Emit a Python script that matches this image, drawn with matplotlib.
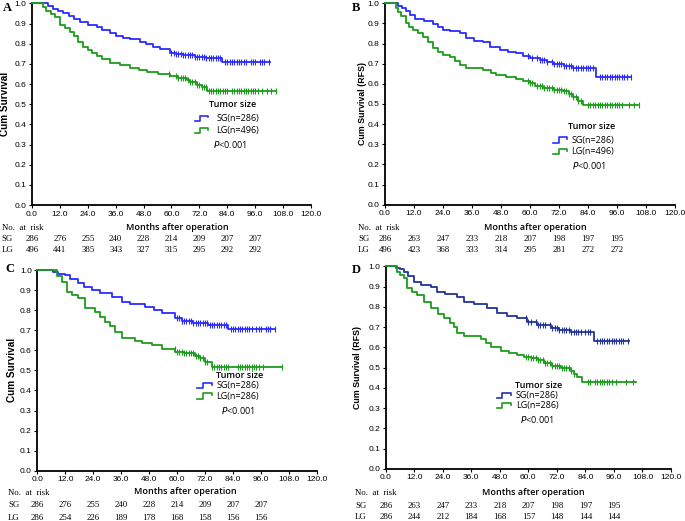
import numpy as np
import matplotlib
matplotlib.use("Agg")
import matplotlib.pyplot as plt

# ---------------- data ----------------
months_ticks = [0, 12, 24, 36, 48, 60, 72, 84, 96, 108, 120]
risk_times = [0, 12, 24, 36, 48, 60, 72, 84, 96]

# Panel A (OS, before matching)
A_sg_t = [0, 7, 9, 11, 13.5, 16, 18, 20.6, 24, 27.8, 30, 33.5, 36, 39, 42, 46.5, 49, 52, 55, 59.4, 62, 65, 70, 75, 81.6, 102.4]
A_sg_s = [1, 0.99, 0.975, 0.965, 0.951, 0.94, 0.925, 0.91, 0.895, 0.882, 0.87, 0.852, 0.84, 0.83, 0.822, 0.81, 0.80, 0.786, 0.775, 0.756, 0.748, 0.744, 0.735, 0.728, 0.71, 0.71]
A_sg_c = [60, 61, 62, 63, 64, 65, 66, 67, 68, 69, 70, 71, 72, 73, 74, 75, 76, 77, 78, 79, 80, 81, 83, 84, 85, 86, 87, 88, 89, 90, 91, 92, 94, 95, 96, 98, 99, 100, 102]
A_lg_t = [0, 4.9, 6, 8, 9.9, 12, 14, 16.3, 18, 20, 22, 24, 26, 27.8, 30, 33.5, 37.8, 42, 46, 49.3, 54, 59.4, 63, 66.5, 68, 70.8, 73, 75.1, 105]
A_lg_s = [1, 0.985, 0.965, 0.95, 0.935, 0.893, 0.88, 0.86, 0.84, 0.81, 0.786, 0.77, 0.755, 0.74, 0.725, 0.703, 0.695, 0.678, 0.67, 0.662, 0.652, 0.64, 0.63, 0.62, 0.61, 0.596, 0.585, 0.568, 0.568]
A_lg_c = [59, 62, 63, 64, 65, 66, 67, 68, 69, 70, 71, 72, 73, 74, 75, 76, 77, 78, 79, 80, 81, 82, 83, 84, 86, 87, 88, 89, 90, 91, 92, 93, 94, 95, 96, 97, 99, 101, 103, 105]
A_sg_risk = [286, 276, 255, 240, 228, 214, 209, 207, 207]
A_lg_risk = [496, 441, 385, 343, 327, 315, 295, 292, 292]

# Panel B (RFS, before matching)
B_sg_t = [0, 5.4, 7, 8.8, 10.5, 12.3, 16, 19.9, 22, 24, 27, 30.9, 33.6, 37, 40.5, 43.3, 47.5, 51, 54.3, 57, 59.9, 64, 67, 69.5, 74, 77.8, 87.4, 101.9]
B_sg_s = [1, 0.985, 0.975, 0.96, 0.94, 0.922, 0.91, 0.897, 0.88, 0.867, 0.86, 0.851, 0.826, 0.815, 0.809, 0.785, 0.768, 0.76, 0.752, 0.74, 0.73, 0.718, 0.71, 0.70, 0.69, 0.68, 0.633, 0.633]
B_sg_c = [59, 61, 63, 64, 65, 66, 67, 69, 70, 71, 72, 73, 74, 75, 76, 77, 78, 79, 80, 81, 82, 83, 84, 85, 86, 89, 90, 91, 92, 93, 94, 95, 96, 97, 98, 99, 100, 102]
B_lg_t = [0, 4.4, 5.5, 6.8, 8.8, 10, 11.6, 13.5, 15.7, 18, 19.9, 22, 24, 26.8, 29, 30.9, 33.6, 40.5, 44, 46, 50, 54.3, 57, 59.9, 62, 65.4, 70, 73.6, 76, 77.8, 80, 82, 104.7]
B_lg_s = [1, 0.975, 0.955, 0.935, 0.90, 0.88, 0.867, 0.85, 0.834, 0.81, 0.777, 0.76, 0.745, 0.735, 0.715, 0.694, 0.677, 0.669, 0.655, 0.644, 0.632, 0.623, 0.613, 0.603, 0.59, 0.578, 0.57, 0.566, 0.55, 0.536, 0.515, 0.495, 0.495]
B_lg_c = [59, 60, 61, 63, 64, 65, 66, 67, 68, 69, 70, 71, 72, 73, 74, 75, 76, 77, 78, 79, 80, 81, 84, 85, 86, 87, 88, 89, 90, 91, 92, 93, 94, 95, 96, 97, 98, 101, 103, 105]
B_sg_risk = [286, 263, 247, 233, 218, 207, 198, 197, 195]
B_lg_risk = [496, 423, 368, 333, 314, 295, 281, 272, 272]

# Panel C (OS, after matching)
C_sg_t = [0, 6.9, 9, 11.9, 14, 17.6, 20, 23.4, 27, 32, 36.3, 40, 46.3, 50, 53.4, 59.2, 62, 67, 73.5, 82, 102.1]
C_sg_s = [1, 0.99, 0.982, 0.975, 0.955, 0.934, 0.915, 0.90, 0.885, 0.867, 0.842, 0.83, 0.817, 0.80, 0.784, 0.759, 0.745, 0.735, 0.726, 0.708, 0.708]
C_sg_c = [60, 61, 62, 63, 64, 65, 66, 67, 68, 69, 70, 71, 72, 73, 74, 75, 76, 77, 78, 79, 80, 81, 83, 84, 85, 86, 87, 88, 89, 90, 91, 92, 94, 95, 96, 98, 99, 100, 102]
C_lg_t = [0, 8.3, 10.5, 12.6, 15, 17.6, 20.5, 24.8, 27, 29.1, 31, 33.4, 36.3, 42, 45, 49.1, 53.4, 59.2, 63, 67.7, 70, 72, 74.9, 105]
C_lg_s = [1, 0.97, 0.942, 0.892, 0.875, 0.859, 0.809, 0.792, 0.765, 0.742, 0.72, 0.693, 0.663, 0.646, 0.636, 0.626, 0.606, 0.593, 0.585, 0.573, 0.56, 0.543, 0.518, 0.518]
C_lg_c = [59, 60, 61, 62, 63, 64, 65, 66, 67, 68, 69, 70, 71, 72, 73, 75, 76, 77, 78, 79, 80, 81, 82, 86, 87, 88, 89, 90, 91, 92, 93, 94, 95, 97, 105]
C_sg_risk = [286, 276, 255, 240, 228, 214, 209, 207, 207]
C_lg_risk = [286, 254, 226, 189, 178, 168, 158, 156, 156]

# Panel D (RFS, after matching)
D_sg_t = [0, 4.2, 6, 7.7, 9.5, 11.9, 15, 18.9, 21.7, 25, 30.1, 32.9, 37, 42.7, 46.9, 51, 55.3, 59.5, 63.7, 69.4, 73, 77.8, 87.6, 102.3]
D_sg_s = [1, 0.99, 0.985, 0.973, 0.95, 0.924, 0.91, 0.899, 0.875, 0.865, 0.85, 0.825, 0.815, 0.792, 0.768, 0.755, 0.743, 0.727, 0.71, 0.694, 0.685, 0.677, 0.633, 0.633]
D_sg_c = [59, 60, 61, 63, 64, 65, 66, 67, 69, 70, 71, 72, 73, 74, 75, 76, 77, 78, 79, 80, 81, 82, 84, 85, 86, 89, 90, 91, 92, 93, 94, 95, 96, 97, 98, 99, 100, 102]
D_lg_t = [0, 4.9, 6, 7.7, 9.1, 11, 13.3, 16, 18.9, 22, 24.5, 27, 28.7, 30.1, 32.9, 39.9, 42, 44.2, 48.4, 52, 55.3, 58, 61, 64, 66.6, 70, 73.6, 77.8, 79, 80.6, 82.7, 105.1]
D_lg_s = [1, 0.97, 0.955, 0.94, 0.891, 0.875, 0.858, 0.825, 0.792, 0.765, 0.743, 0.72, 0.702, 0.669, 0.657, 0.641, 0.62, 0.603, 0.582, 0.572, 0.562, 0.553, 0.546, 0.535, 0.521, 0.51, 0.50, 0.483, 0.47, 0.455, 0.427, 0.427]
D_lg_c = [59, 60, 61, 62, 63, 64, 65, 66, 67, 68, 69, 70, 71, 72, 73, 74, 75, 76, 77, 78, 79, 85, 86, 88, 89, 90, 91, 92, 93, 94, 95, 97, 101, 104]
D_sg_risk = [286, 263, 247, 233, 218, 207, 198, 197, 195]
D_lg_risk = [286, 244, 212, 184, 168, 157, 148, 144, 144]

# ---------------- style ----------------
GREEN = '#1c9c1c'
SANS = ['Liberation Sans Narrow', 'Liberation Sans', 'DejaVu Sans']
SERIF = ['Liberation Serif', 'DejaVu Serif']

panels = [
    dict(letter='A', pos=[0.0467, 0.6065, 0.4073, 0.3868], blue='#2b2bff',
         sg=(A_sg_t, A_sg_s, A_sg_c), lg=(A_lg_t, A_lg_s, A_lg_c),
         risk=(A_sg_risk, A_lg_risk), n_lg=496, ylabel='Cum Survival',
         leg=dict(tx=86.5, ty=0.50, gx=70, gw=5.7, lx=79.3, y1=0.43, y2=0.37, px=77.9, py=0.30),
         ylab_x=-0.097, xlab=(0.52, -0.114), rows=(-0.114, -0.169, -0.223), rowx=-0.108,
         letter_xy=(3, 8)),
    dict(letter='B', pos=[0.5620, 0.6071, 0.4234, 0.3866], blue='#2b2bff',
         sg=(B_sg_t, B_sg_s, B_sg_c), lg=(B_lg_t, B_lg_s, B_lg_c),
         risk=(B_sg_risk, B_lg_risk), n_lg=496, ylabel='Cum Survival (RFS)',
         leg=dict(tx=85.6, ty=0.389, gx=69.5, gw=5.8, lx=77.2, y1=0.321, y2=0.263, px=77.2, py=0.194),
         ylab_x=-0.077, xlab=(0.52, -0.115), rows=(-0.115, -0.170, -0.225), rowx=-0.093,
         letter_xy=(352, 8)),
    dict(letter='C', pos=[0.0545, 0.0965, 0.4079, 0.3852], blue='#2b2bff',
         sg=(C_sg_t, C_sg_s, C_sg_c), lg=(C_lg_t, C_lg_s, C_lg_c),
         risk=(C_sg_risk, C_lg_risk), n_lg=286, ylabel='Cum Survival',
         leg=dict(tx=87.0, ty=0.473, gx=68.5, gw=6.4, lx=76.8, y1=0.424, y2=0.372, px=78.8, py=0.302),
         ylab_x=-0.092, xlab=(0.529, -0.106), rows=(-0.111, -0.170, -0.235), rowx=-0.105,
         letter_xy=(5, 269)),
    dict(letter='D', pos=[0.5631, 0.1000, 0.4165, 0.3889], blue='#2233a0',
         sg=(D_sg_t, D_sg_s, D_sg_c), lg=(D_lg_t, D_lg_s, D_lg_c),
         risk=(D_sg_risk, D_lg_risk), n_lg=286, ylabel='Cum Survival (RFS)',
         leg=dict(tx=64.3, ty=0.411, gx=46.7, gw=5.9, lx=54.7, y1=0.362, y2=0.312, px=56.5, py=0.243),
         ylab_x=-0.10, xlab=(0.516, -0.118), rows=(-0.118, -0.181, -0.235), rowx=-0.108,
         letter_xy=(352, 270)),
]

W, H = 685, 521
fig = plt.figure(figsize=(W / 100, H / 100), dpi=100)


def step_value(t, s, x):
    i = np.searchsorted(np.asarray(t), np.asarray(x), side='right') - 1
    return np.asarray(s)[i]


def glyph(ax, x0, w, yc, color):
    h = 0.026
    xs = [x0, x0 + 0.4 * w, x0 + 0.4 * w, x0 + w, x0 + w]
    ys = [yc - h / 2, yc - h / 2, yc + h / 2, yc + h / 2, yc + h / 6]
    ax.plot(xs, ys, color=color, lw=1.2, clip_on=False)


for p in panels:
    ax = fig.add_axes(p['pos'])
    for (t, s, c), col in ((p['sg'], p['blue']), (p['lg'], GREEN)):
        ax.step(t, s, where='post', color=col, lw=1.3, clip_on=False, zorder=3)
        ax.plot(c, step_value(t, s, c), linestyle='none', marker='|', ms=4,
                mew=0.8, color=col, clip_on=False, zorder=3)
    ax.set_xlim(0, 120)
    ax.set_ylim(0, 1.0)
    ax.set_xticks(months_ticks)
    ax.set_xticklabels([f'{v:.1f}' for v in months_ticks])
    ax.set_yticks(np.round(np.arange(0, 1.01, 0.1), 1))
    ax.set_yticklabels([f'{v:.1f}' for v in np.arange(0, 1.01, 0.1)])
    for lab in ax.get_xticklabels() + ax.get_yticklabels():
        lab.set_family(SANS)
        lab.set_fontsize(6.0)
    ax.tick_params(direction='out', length=2.5, width=0.8, pad=1.5, colors='black')
    for sp in ('top', 'right'):
        ax.spines[sp].set_visible(False)
    for sp in ('left', 'bottom'):
        ax.spines[sp].set_linewidth(1.3)
    ax.text(p['ylab_x'], 0.5, p['ylabel'], transform=ax.transAxes, rotation=90,
            ha='center', va='center', family=SANS[1:], fontweight='bold',
            fontsize=7.2 if p['ylabel'] == 'Cum Survival' else 6.4)
    ax.text(p['xlab'][0], p['xlab'][1], 'Months after operation', transform=ax.transAxes,
            ha='center', va='center', family=['Open Sans', 'DejaVu Sans'],
            fontweight='semibold', fontsize=6.5)

    # legend
    L = p['leg']
    tf = dict(family=['Open Sans', 'DejaVu Sans'], fontsize=6.5, va='center')
    ax.text(L['tx'], L['ty'], 'Tumor size', ha='center', fontweight='semibold', **tf)
    glyph(ax, L['gx'], L['gw'], L['y1'], p['blue'])
    glyph(ax, L['gx'], L['gw'], L['y2'], GREEN)
    ax.text(L['lx'], L['y1'], 'SG(n=286)', ha='left', **tf)
    ax.text(L['lx'], L['y2'], f'LG(n={p["n_lg"]})', ha='left', **tf)
    ax.text(L['px'], L['py'], r'$\mathit{P}$<0.001', ha='left', **tf)

    # risk table
    trans = ax.get_xaxis_transform()
    rf = dict(family=SERIF, fontsize=6.3, va='center')
    ax.text(p['rowx'], p['rows'][0], 'No.  at  risk', transform=ax.transAxes, ha='left', **rf)
    ax.text(p['rowx'], p['rows'][1], 'SG', transform=ax.transAxes, ha='left', **rf)
    ax.text(p['rowx'], p['rows'][2], 'LG', transform=ax.transAxes, ha='left', **rf)
    for tt, a, b in zip(risk_times, p['risk'][0], p['risk'][1]):
        ax.text(tt, p['rows'][1], str(a), transform=trans, ha='center', **rf)
        ax.text(tt, p['rows'][2], str(b), transform=trans, ha='center', **rf)

    lx, ly = p['letter_xy']
    fig.text(lx / W, 1 - ly / H, p['letter'], ha='left', va='center',
             family=SERIF, fontweight='bold', fontsize=9.0)

fig.savefig('out.png', dpi=100)
